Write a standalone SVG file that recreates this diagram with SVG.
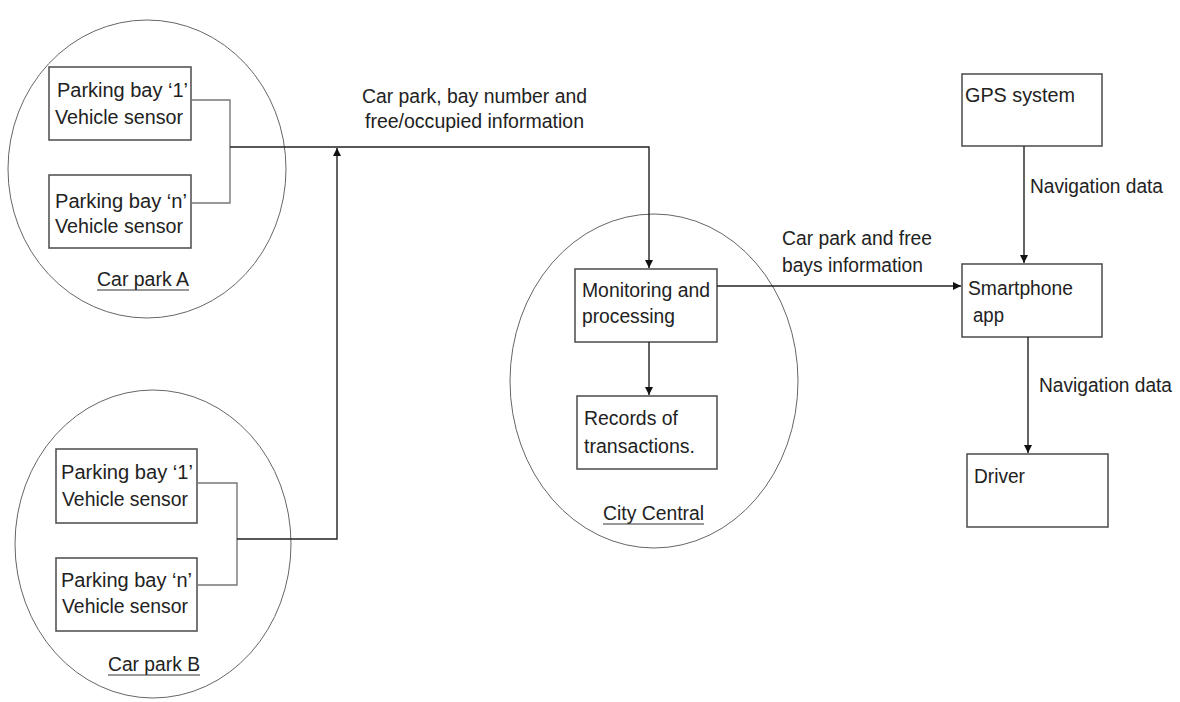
<svg xmlns="http://www.w3.org/2000/svg" width="1180" height="702" viewBox="0 0 1180 702">
  <style>
    .zone { fill: none; stroke: #666; stroke-width: 1; }
    .box { fill: #fff; stroke: #555; stroke-width: 1.6; }
    .txt { font-family: "Liberation Sans", Arial, sans-serif; font-size: 20px; fill: #222; }
    .ul { stroke: #333; stroke-width: 1.2; }
    .link { fill: none; stroke: #222; stroke-width: 1.4; }
    .tap { fill: none; stroke: #777; stroke-width: 1.4; }
  </style>
  <defs>
    <marker id="arrow" viewBox="0 0 10 10" refX="10" refY="5" markerWidth="8" markerHeight="8" markerUnits="userSpaceOnUse" orient="auto">
      <path d="M0,0 L10,5 L0,10 z" fill="#111"/>
    </marker>
  </defs>
  <rect width="1180" height="702" fill="#fff"/>

  <!-- Car park A -->
  <g id="carParkA">
    <ellipse class="zone" cx="147" cy="169" rx="139" ry="149"/>
    <text class="txt" x="97" y="286" textLength="92" lengthAdjust="spacingAndGlyphs">Car park A</text>
    <line class="ul" x1="97" y1="290" x2="189" y2="290"/>
  </g>
  <g id="sensorA1">
    <rect class="box" x="49" y="67" width="142" height="73"/>
    <text class="txt" x="57" y="97" textLength="131" lengthAdjust="spacingAndGlyphs">Parking bay ‘1’</text>
    <text class="txt" x="55" y="124" textLength="128" lengthAdjust="spacingAndGlyphs">Vehicle sensor</text>
  </g>
  <g id="sensorAn">
    <rect class="box" x="49" y="175" width="142" height="73"/>
    <text class="txt" x="55" y="208" textLength="132" lengthAdjust="spacingAndGlyphs">Parking bay ‘n’</text>
    <text class="txt" x="55" y="233" textLength="128" lengthAdjust="spacingAndGlyphs">Vehicle sensor</text>
  </g>

  <!-- Car park B -->
  <g id="carParkB">
    <ellipse class="zone" cx="153" cy="544" rx="138" ry="154"/>
    <text class="txt" x="108" y="671" textLength="92" lengthAdjust="spacingAndGlyphs">Car park B</text>
    <line class="ul" x1="108" y1="675" x2="200" y2="675"/>
  </g>
  <g id="sensorB1">
    <rect class="box" x="56" y="449" width="141" height="74"/>
    <text class="txt" x="61" y="479" textLength="132" lengthAdjust="spacingAndGlyphs">Parking bay ‘1’</text>
    <text class="txt" x="62" y="506" textLength="126" lengthAdjust="spacingAndGlyphs">Vehicle sensor</text>
  </g>
  <g id="sensorBn">
    <rect class="box" x="56" y="558" width="141" height="73"/>
    <text class="txt" x="61" y="587" textLength="131" lengthAdjust="spacingAndGlyphs">Parking bay ‘n’</text>
    <text class="txt" x="62" y="613" textLength="126" lengthAdjust="spacingAndGlyphs">Vehicle sensor</text>
  </g>

  <!-- City Central -->
  <g id="cityCentral">
    <ellipse class="zone" cx="654" cy="381" rx="144" ry="167"/>
    <text class="txt" x="603" y="520" textLength="101" lengthAdjust="spacingAndGlyphs">City Central</text>
    <line class="ul" x1="603" y1="524" x2="704" y2="524"/>
  </g>
  <g id="monitoring">
    <rect class="box" x="575" y="269" width="142" height="73"/>
    <text class="txt" x="582" y="297" textLength="128" lengthAdjust="spacingAndGlyphs">Monitoring and</text>
    <text class="txt" x="582" y="323" textLength="93" lengthAdjust="spacingAndGlyphs">processing</text>
  </g>
  <g id="records">
    <rect class="box" x="577" y="396" width="140" height="73"/>
    <text class="txt" x="584" y="425" textLength="94" lengthAdjust="spacingAndGlyphs">Records of</text>
    <text class="txt" x="584" y="453" textLength="111" lengthAdjust="spacingAndGlyphs">transactions.</text>
  </g>

  <!-- Navigation side -->
  <g id="gps">
    <rect class="box" x="962" y="74" width="140" height="72"/>
    <text class="txt" x="965" y="102" textLength="110" lengthAdjust="spacingAndGlyphs">GPS system</text>
  </g>
  <g id="smartphone">
    <rect class="box" x="962" y="264" width="140" height="73"/>
    <text class="txt" x="968" y="295" textLength="105" lengthAdjust="spacingAndGlyphs">Smartphone</text>
    <text class="txt" x="973" y="322" textLength="31" lengthAdjust="spacingAndGlyphs">app</text>
  </g>
  <g id="driver">
    <rect class="box" x="967" y="454" width="141" height="73"/>
    <text class="txt" x="974" y="483" textLength="51" lengthAdjust="spacingAndGlyphs">Driver</text>
  </g>

  <!-- Connectors and their labels -->
  <g id="connectors">
    <path class="tap" d="M191,100 H230 V203 H191"/>
    <path class="tap" d="M197,483 H237 V585 H197"/>
    <path class="link" d="M230,147 H649 V268" marker-end="url(#arrow)"/>
    <path class="link" d="M237,539 H337 V148" marker-end="url(#arrow)"/>
    <path class="link" d="M649,342 V395" marker-end="url(#arrow)"/>
    <path class="link" d="M717,286 H961" marker-end="url(#arrow)"/>
    <path class="link" d="M1024,146 V263" marker-end="url(#arrow)"/>
    <path class="link" d="M1028,337 V453" marker-end="url(#arrow)"/>

    <text class="txt" x="362" y="103" textLength="225" lengthAdjust="spacingAndGlyphs">Car park, bay number and</text>
    <text class="txt" x="365" y="128" textLength="219" lengthAdjust="spacingAndGlyphs">free/occupied information</text>
    <text class="txt" x="782" y="245" textLength="150" lengthAdjust="spacingAndGlyphs">Car park and free</text>
    <text class="txt" x="782" y="272" textLength="141" lengthAdjust="spacingAndGlyphs">bays information</text>
    <text class="txt" x="1030" y="193" textLength="133" lengthAdjust="spacingAndGlyphs">Navigation data</text>
    <text class="txt" x="1039" y="392" textLength="133" lengthAdjust="spacingAndGlyphs">Navigation data</text>
  </g>
</svg>
